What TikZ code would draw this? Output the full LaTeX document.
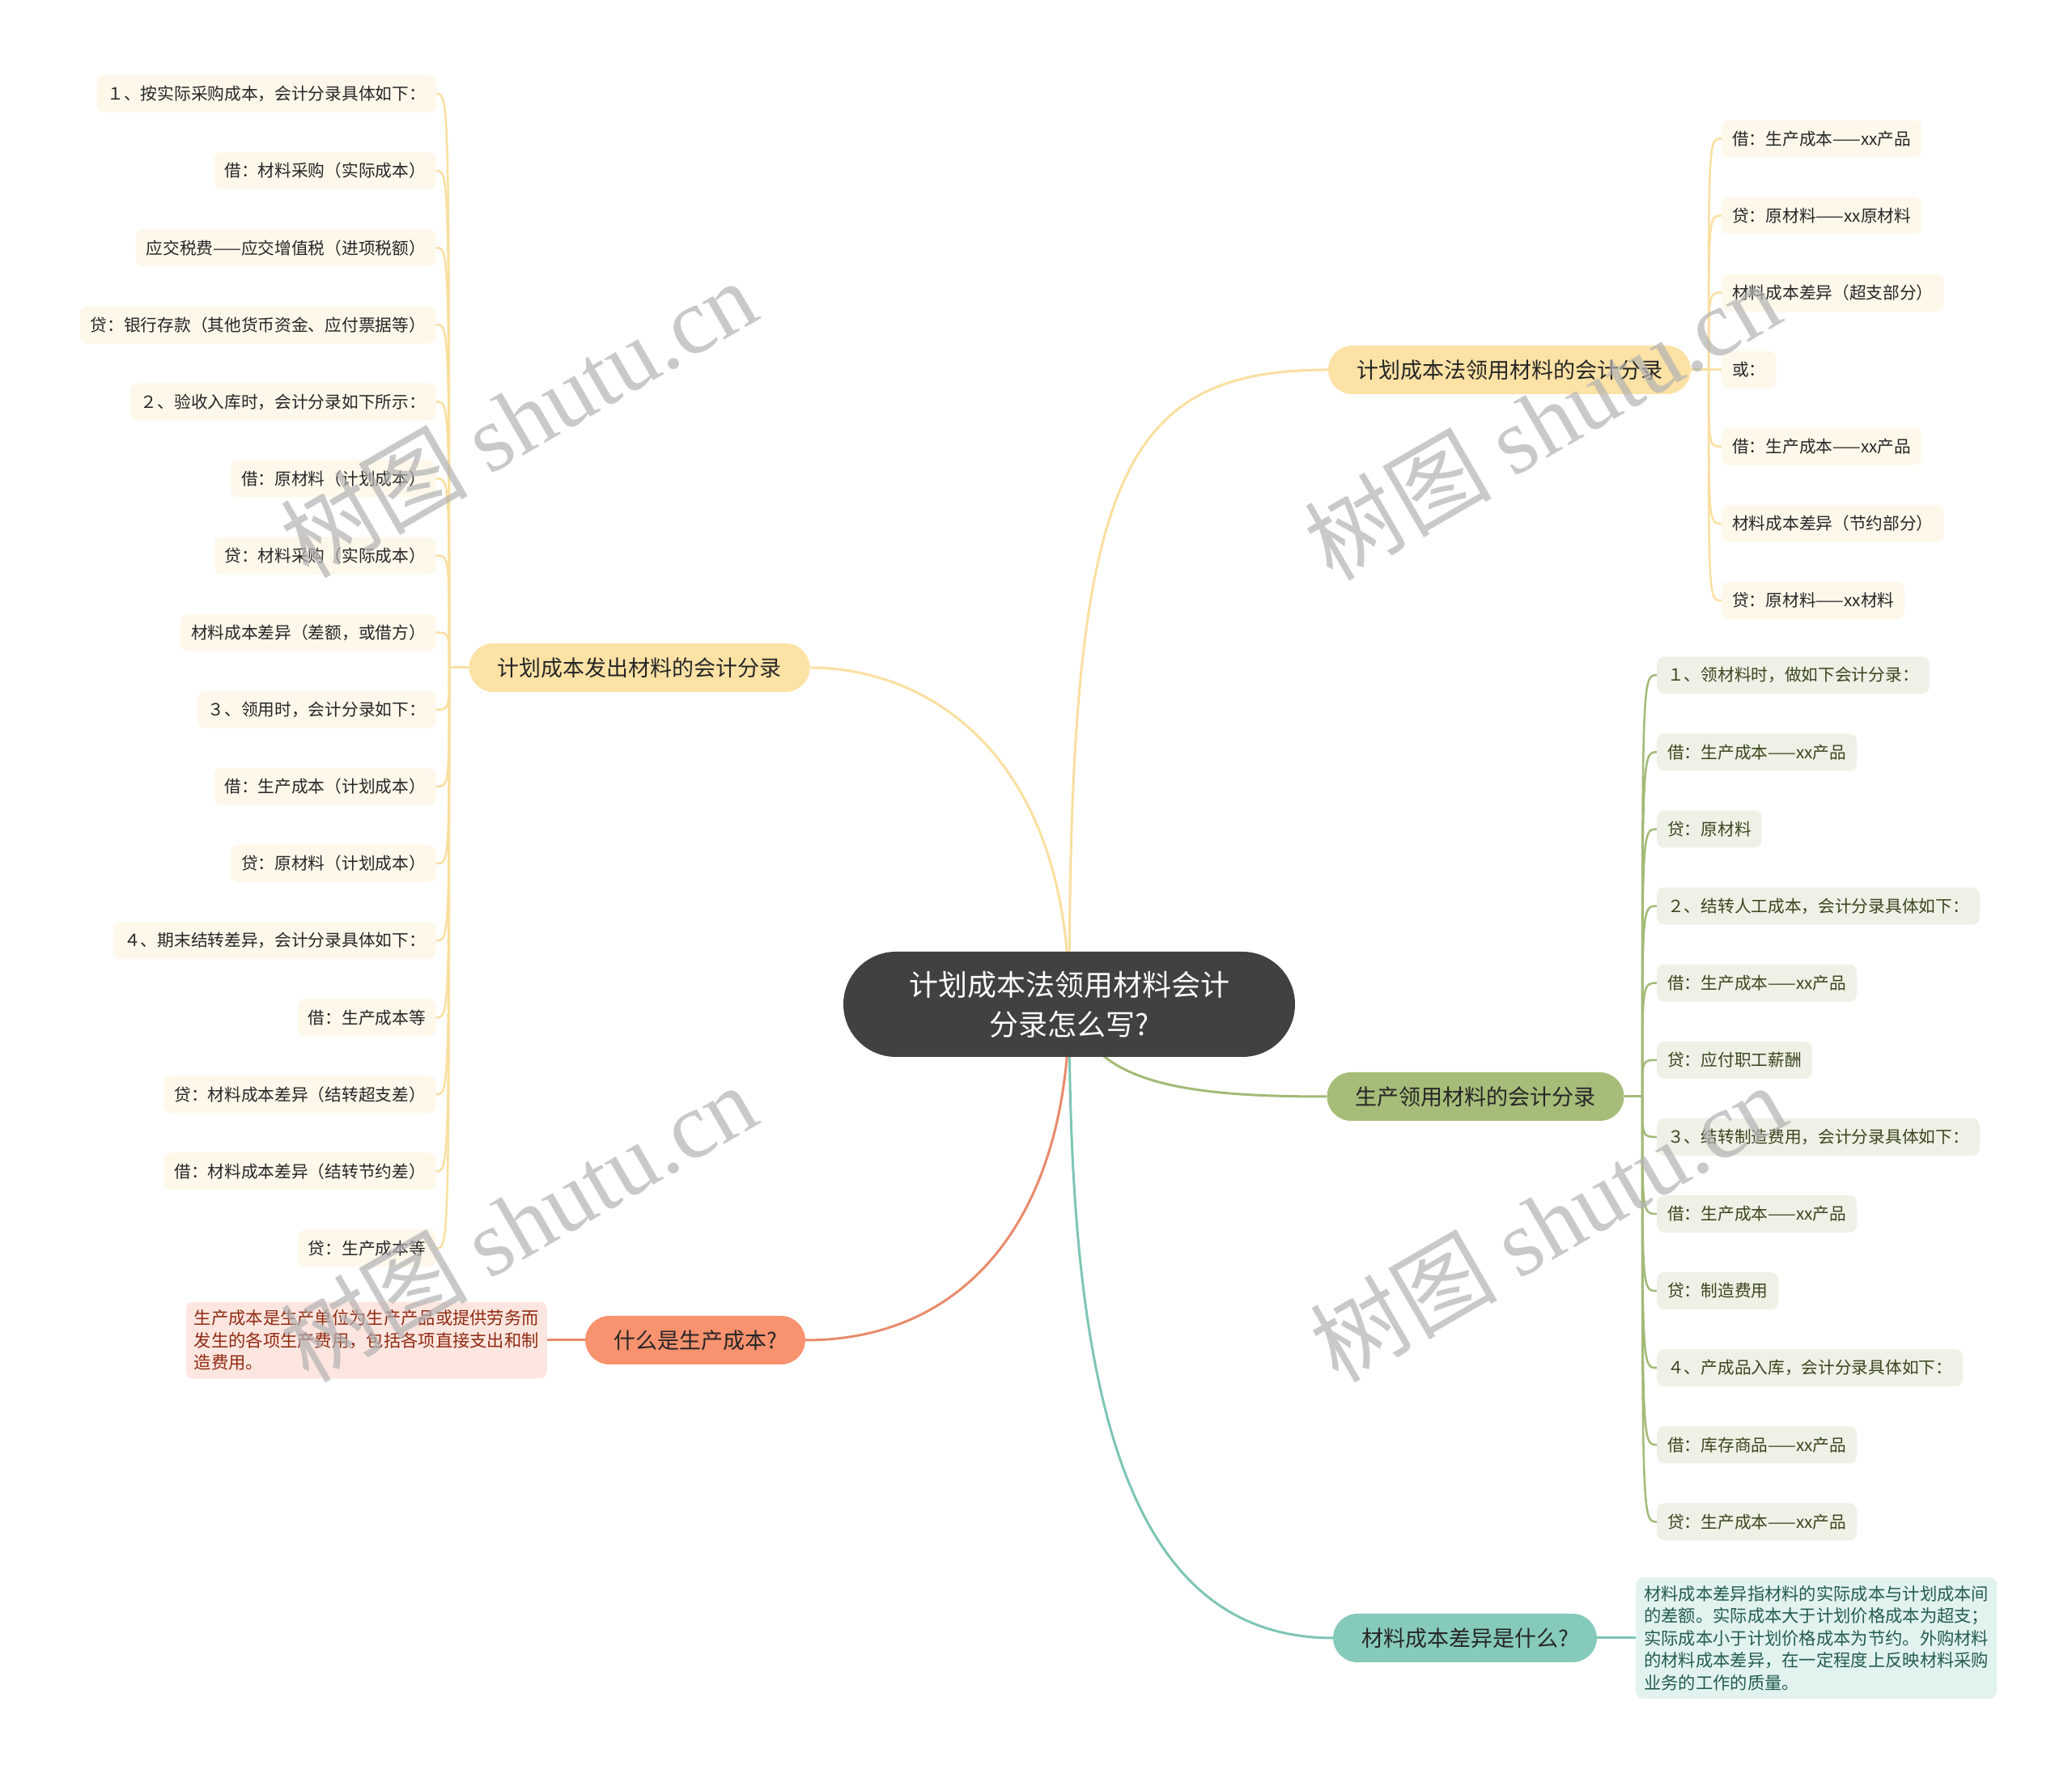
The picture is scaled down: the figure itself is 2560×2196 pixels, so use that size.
\documentclass[tikz,border=0pt]{standalone}
\usepackage{fontspec}
\setmainfont{Noto Sans CJK SC}
\newfontfamily\wmfont{Liberation Serif}
\usetikzlibrary{positioning,backgrounds}

\definecolor{rootfill}{HTML}{414141}
\definecolor{yelfill}{HTML}{FCE2A5}
\definecolor{yelline}{HTML}{F9DFA0}
\definecolor{yelleaf}{HTML}{FDF8EA}
\definecolor{grnfill}{HTML}{A6BC79}
\definecolor{grnline}{HTML}{A3BA77}
\definecolor{grnleaf}{HTML}{EEF1E6}
\definecolor{grntext}{HTML}{3A461F}
\definecolor{redfill}{HTML}{F9926F}
\definecolor{redline}{HTML}{E98A6B}
\definecolor{redleaf}{HTML}{FDE6E0}
\definecolor{redtext}{HTML}{902A12}
\definecolor{tealfill}{HTML}{86CABB}
\definecolor{tealline}{HTML}{7EC5B5}
\definecolor{tealleaf}{HTML}{E2F3EF}
\definecolor{tealtext}{HTML}{235C4E}

\begin{document}
\begin{tikzpicture}[x=1pt, y=1pt,
            root/.style={rectangle, rounded corners=65pt, fill=rootfill, text=white,
                    minimum width=558pt, minimum height=130pt, align=center,
                    font=\fontsize{36pt}{49pt}\selectfont},
            branch/.style={rectangle, rounded corners=30pt, minimum height=60pt,
                    inner xsep=35pt, text=black!85, font=\fontsize{27pt}{32pt}\selectfont},
            leaf/.style={rectangle, rounded corners=9pt, minimum height=46pt,
                    inner xsep=13pt, inner ysep=4pt, text=black!85,
                    font=\fontsize{20.7pt}{24pt}\selectfont},
            yleaf/.style={leaf, fill=yelleaf},
            gleaf/.style={leaf, fill=grnleaf, text=grntext},
            note/.style={rectangle, rounded corners=9pt, align=left, inner xsep=10pt,
                    inner ysep=10pt, font=\fontsize{21.3pt}{27.5pt}\selectfont},
            link/.style={line width=3pt},
            twig/.style={line width=2.5pt},
            watermark/.style={rotate=30, text=black!30, text opacity=0.7,
                    font=\fontsize{116pt}{116pt}\selectfont}]

        \useasboundingbox (0,0) rectangle (2560,2196);

        % centre and main branches
        \node[root] (root) at (1321,955) {计划成本法领用材料会计\\分录怎么写?};
        \node[branch, fill=yelfill] (b1) at (1865,1739) {计划成本法领用材料的会计分录};
        \node[branch, fill=yelfill] (b2) at (790,1371) {计划成本发出材料的会计分录};
        \node[branch, fill=grnfill] (b3) at (1823,841) {生产领用材料的会计分录};
        \node[branch, fill=redfill] (b4) at (859,540) {什么是生产成本?};
        \node[branch, fill=tealfill] (b5) at (1810,172) {材料成本差异是什么?};

        % left column
        \node[yleaf, anchor=east] (p1) at (539,2080) {１、按实际采购成本，会计分录具体如下：};
        \node[yleaf, below=48.7pt of p1.south east, anchor=north east] (p2) {借：材料采购（实际成本）};
        \node[yleaf, below=48.7pt of p2.south east, anchor=north east] (p3) {应交税费——应交增值税（进项税额）};
        \node[yleaf, below=48.7pt of p3.south east, anchor=north east] (p4) {贷：银行存款（其他货币资金、应付票据等）};
        \node[yleaf, below=48.7pt of p4.south east, anchor=north east] (p5) {２、验收入库时，会计分录如下所示：};
        \node[yleaf, below=48.7pt of p5.south east, anchor=north east] (p6) {借：原材料（计划成本）};
        \node[yleaf, below=48.7pt of p6.south east, anchor=north east] (p7) {贷：材料采购（实际成本）};
        \node[yleaf, below=48.7pt of p7.south east, anchor=north east] (p8) {材料成本差异（差额，或借方）};
        \node[yleaf, below=48.7pt of p8.south east, anchor=north east] (p9) {３、领用时，会计分录如下：};
        \node[yleaf, below=48.7pt of p9.south east, anchor=north east] (p10) {借：生产成本（计划成本）};
        \node[yleaf, below=48.7pt of p10.south east, anchor=north east] (p11) {贷：原材料（计划成本）};
        \node[yleaf, below=48.7pt of p11.south east, anchor=north east] (p12) {４、期末结转差异，会计分录具体如下：};
        \node[yleaf, below=48.7pt of p12.south east, anchor=north east] (p13) {借：生产成本等};
        \node[yleaf, below=48.7pt of p13.south east, anchor=north east] (p14) {贷：材料成本差异（结转超支差）};
        \node[yleaf, below=48.7pt of p14.south east, anchor=north east] (p15) {借：材料成本差异（结转节约差）};
        \node[yleaf, below=48.7pt of p15.south east, anchor=north east] (p16) {贷：生产成本等};

        % right column, top
        \node[yleaf, anchor=west] (r1) at (2127,2024.6) {借：生产成本——xx产品};
        \node[yleaf, below=48.7pt of r1.south west, anchor=north west] (r2) {贷：原材料——xx原材料};
        \node[yleaf, below=48.7pt of r2.south west, anchor=north west] (r3) {材料成本差异（超支部分）};
        \node[yleaf, below=48.7pt of r3.south west, anchor=north west] (r4) {或：};
        \node[yleaf, below=48.7pt of r4.south west, anchor=north west] (r5) {借：生产成本——xx产品};
        \node[yleaf, below=48.7pt of r5.south west, anchor=north west] (r6) {材料成本差异（节约部分）};
        \node[yleaf, below=48.7pt of r6.south west, anchor=north west] (r7) {贷：原材料——xx材料};

        % right column, green
        \node[gleaf, anchor=west] (g1) at (2047,1361.7) {１、领材料时，做如下会计分录：};
        \node[gleaf, below=48.7pt of g1.south west, anchor=north west] (g2) {借：生产成本——xx产品};
        \node[gleaf, below=48.7pt of g2.south west, anchor=north west] (g3) {贷：原材料};
        \node[gleaf, below=48.7pt of g3.south west, anchor=north west] (g4) {２、结转人工成本，会计分录具体如下：};
        \node[gleaf, below=48.7pt of g4.south west, anchor=north west] (g5) {借：生产成本——xx产品};
        \node[gleaf, below=48.7pt of g5.south west, anchor=north west] (g6) {贷：应付职工薪酬};
        \node[gleaf, below=48.7pt of g6.south west, anchor=north west] (g7) {３、结转制造费用，会计分录具体如下：};
        \node[gleaf, below=48.7pt of g7.south west, anchor=north west] (g8) {借：生产成本——xx产品};
        \node[gleaf, below=48.7pt of g8.south west, anchor=north west] (g9) {贷：制造费用};
        \node[gleaf, below=48.7pt of g9.south west, anchor=north west] (g10) {４、产成品入库，会计分录具体如下：};
        \node[gleaf, below=48.7pt of g10.south west, anchor=north west] (g11) {借：库存商品——xx产品};
        \node[gleaf, below=48.7pt of g11.south west, anchor=north west] (g12) {贷：生产成本——xx产品};

        % notes
        \node[note, fill=redleaf, text=redtext, anchor=east] (n4) at (676,540)
            {生产成本是生产单位为生产产品或提供劳务而\\发生的各项生产费用，包括各项直接支出和制\\造费用。};
        \node[note, fill=tealleaf, text=tealtext, anchor=west] (n5) at (2021,172)
            {材料成本差异指材料的实际成本与计划成本间\\的差额。实际成本大于计划价格成本为超支；\\实际成本小于计划价格成本为节约。外购材料\\的材料成本差异，在一定程度上反映材料采购\\业务的工作的质量。};

        \coordinate (t1) at (2111,1739);
        \coordinate (t2) at (555,1371);
        \coordinate (t3) at (2029,841);

        \begin{scope}[on background layer]
            \draw[link, yelline] (root.center) .. controls (1321,1600) and (1380,1739) .. (b1.west);
            \draw[link, yelline] (root.center) .. controls (1321,1260) and (1150,1371) .. (b2.east);
            \draw[link, grnline] (root.center) .. controls (1350,860) and (1450,841) .. (b3.west);
            \draw[link, redline] (root.center) .. controls (1321,700) and (1200,540) .. (b4.east);
            \draw[link, tealline] (root.center) .. controls (1321,500) and (1380,172) .. (b5.west);

            \draw[link, yelline] (b1.east) -- (t1);
            \draw[link, yelline] (b2.west) -- (t2);
            \draw[link, grnline] (b3.east) -- (t3);
            \draw[link, redline] (b4.west) -- (n4.east);
            \draw[link, tealline] (b5.east) -- (n5.west);

            \foreach \i in {1,...,7}
                \draw[twig, yelline] (t1) .. controls (t1 |- r\i.west) .. (r\i.west);
            \foreach \i in {1,...,16}
                \draw[twig, yelline] (t2) .. controls (t2 |- p\i.east) .. (p\i.east);
            \foreach \i in {1,...,12}
                \draw[twig, grnline] (t3) .. controls (t3 |- g\i.west) .. (g\i.west);
        \end{scope}

        % watermarks
        \node[watermark] (w1) at (640,1680) {树图 {\wmfont shutu.cn}};
        \node[watermark] (w2) at (640,686) {树图 {\wmfont shutu.cn}};
        \node[watermark] (w3) at (1905,1677) {树图 {\wmfont shutu.cn}};
        \node[watermark] (w4) at (1912,686) {树图 {\wmfont shutu.cn}};
    \end{tikzpicture}
\end{document}
